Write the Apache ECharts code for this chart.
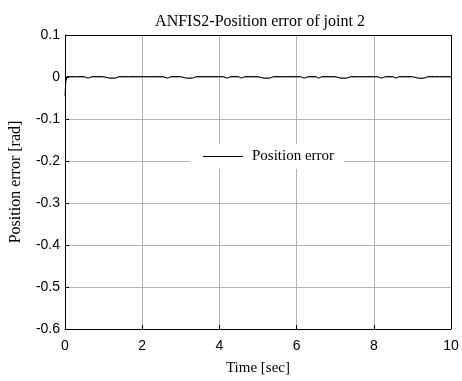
<!DOCTYPE html>
<html>
<head>
<meta charset="utf-8">
<script src="https://cdn.jsdelivr.net/npm/echarts@6/dist/echarts.min.js"></script>
<style>
  html, body { margin: 0; padding: 0; background: #fff; }
</style>
</head>
<body>
<div id="errChart" style="width: 462px; height: 381px"></div>
<script>
// time samples [sec] and the error [rad]
var timeSec = [0, 0.02, 0.05, 0.1, 0.3, 0.5, 0.6, 0.7, 1.0, 1.05, 1.15, 1.3, 1.4, 1.55, 1.6, 1.65, 1.9,
  2.05, 2.1, 2.2, 2.55, 2.65, 2.75, 3.0, 3.05, 3.15, 3.3, 3.4, 3.55, 3.6, 3.65, 4.1, 4.2, 4.3, 4.5, 4.57, 4.65,
  5.0, 5.05, 5.15, 5.3, 5.4, 5.6, 5.65, 5.7, 6.1, 6.2, 6.3, 6.5, 6.57, 6.65, 7.0, 7.05, 7.15, 7.3, 7.4,
  7.6, 7.65, 7.7, 8.1, 8.2, 8.3, 8.5, 8.57, 8.65, 9.0, 9.05, 9.15, 9.3, 9.4, 9.6, 9.65, 9.7, 10];
var errRad = [-0.045, -0.012, 0.001, 0.001, 0.001, 0.001, -0.003, 0.001, 0.001, -0.003, -0.003, -0.003, 0.001, 0.001, -0.003, 0.001, 0.001,
  0.001, -0.003, 0.001, 0.001, -0.003, 0.001, 0.001, -0.003, -0.003, -0.003, 0.001, 0.001, -0.003, 0.001, 0.001, -0.003, 0.001, 0.001, -0.003, 0.001,
  0.001, -0.003, -0.003, -0.003, 0.001, 0.001, -0.003, 0.001, 0.001, -0.003, 0.001, 0.001, -0.003, 0.001, 0.001, -0.003, -0.003, -0.003, 0.001,
  0.001, -0.003, 0.001, 0.001, -0.003, 0.001, 0.001, -0.003, 0.001, 0.001, -0.003, -0.003, -0.003, 0.001, 0.001, -0.003, 0.001, 0.001];

var xTicks = [0, 2, 4, 6, 8, 10];
var yTicks = [-0.6, -0.5, -0.4, -0.3, -0.2, -0.1, 0, 0.1];

let pts = timeSec.map(function (t, i) { return [t, errRad[i]]; });

let myChart = echarts.init(document.getElementById('errChart'));
let option = {
  animation: false,
  backgroundColor: '#ffffff',
  title: {
    text: 'ANFIS2-Position error of joint 2',
    left: 255,
    textAlign: 'center',
    top: 9,
    textStyle: { fontFamily: 'Liberation Serif', fontSize: 16, fontWeight: 'normal', color: '#000' }
  },
  grid: { left: 63, right: 11, top: 35, bottom: 48 },
  legend: {
    left: 190,
    top: 144,
    padding: [5, 10, 5, 13],
    backgroundColor: '#ffffff',
    icon: 'rect',
    itemWidth: 40,
    itemHeight: 1,
    itemGap: 6,
    textStyle: { fontFamily: 'Liberation Serif', fontSize: 15, color: '#000', padding: [0, 0, 0, 4] },
    data: ['Position error']
  },
  xAxis: {
    type: 'value',
    min: xTicks[0],
    max: xTicks[xTicks.length - 1],
    interval: 2,
    name: 'Time [sec]',
    nameLocation: 'middle',
    nameGap: 32,
    nameTextStyle: { fontFamily: 'Liberation Serif', fontSize: 15, color: '#000' },
    axisLine: { onZero: false, lineStyle: { color: '#000', width: 1 } },
    axisTick: { inside: true, length: 4, lineStyle: { color: '#000' } },
    axisLabel: { fontFamily: 'Liberation Sans', fontSize: 14, color: '#000', margin: 10 },
    splitLine: { show: true, lineStyle: { color: '#b4b4b4', width: 1 } }
  },
  yAxis: {
    type: 'value',
    min: yTicks[0],
    max: yTicks[yTicks.length - 1],
    interval: 0.1,
    name: 'Position error [rad]',
    nameLocation: 'middle',
    nameGap: 41,
    nameTextStyle: { fontFamily: 'Liberation Serif', fontSize: 16, color: '#000' },
    axisLine: { show: true, onZero: false, lineStyle: { color: '#000', width: 1 } },
    axisTick: { show: true, inside: true, length: 4, lineStyle: { color: '#000' } },
    axisLabel: {
      fontFamily: 'Liberation Sans', fontSize: 14, color: '#000', margin: 5,
      formatter: function (v) { return String(Math.round(v * 10) / 10); }
    },
    splitLine: { show: true, lineStyle: { color: '#b4b4b4', width: 1 } }
  },
  series: [
    {
      name: 'Position error',
      type: 'line',
      symbol: 'none',
      z: 3,
      lineStyle: { color: '#000', width: 1 },
      itemStyle: { color: '#000' },
      data: pts
    },
    // top and right edges of the axes box
    {
      type: 'line',
      symbol: 'none',
      silent: true,
      data: [],
      markLine: {
        silent: true,
        symbol: 'none',
        label: { show: false },
        lineStyle: { color: '#000', width: 1, type: 'solid' },
        data: [{ yAxis: 0.1 }, { xAxis: 10 }]
      }
    }
  ]
};
myChart.setOption(option);
</script>
</body>
</html>
